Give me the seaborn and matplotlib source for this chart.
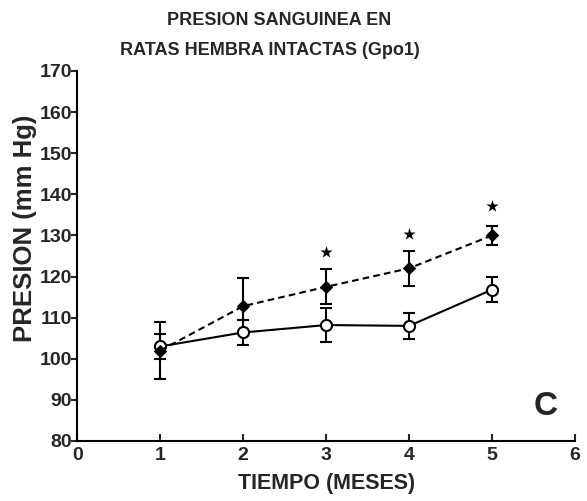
import matplotlib
matplotlib.use("Agg")
import matplotlib.pyplot as plt
import seaborn as sns
import pandas as pd

sns.set_theme(style="ticks")
plt.rcParams["font.family"] = ["Liberation Sans", "DejaVu Sans"]
plt.rcParams["font.weight"] = "bold"

# Months of follow-up
meses = [1, 2, 3, 4, 5]

# Control group (open circles, solid line)
control_media = [103.0, 106.4, 108.2, 108.0, 116.8]
control_ee = [3.0, 3.0, 4.2, 3.2, 3.0]

# Treated group (filled diamonds, dashed line)
tratado_media = [102.0, 112.8, 117.5, 122.0, 130.0]
tratado_ee = [7.0, 6.8, 4.3, 4.2, 2.4]

# Significance marks
estrellas_x = [3, 4, 5]
estrellas_y = [126.0, 130.4, 137.2]

x_ticks = [0, 1, 2, 3, 4, 5, 6]
y_ticks = [80, 90, 100, 110, 120, 130, 140, 150, 160, 170]

df = pd.DataFrame({
    "mes": meses * 2,
    "presion": control_media + tratado_media,
    "grupo": ["control"] * 5 + ["tratado"] * 5,
})

fig = plt.figure(figsize=(5.87, 5.01), dpi=100)
ax = fig.add_axes([0.1317, 0.1198, 0.8479, 0.7385])

lw = 1.5
ax.errorbar(meses, control_media, yerr=control_ee, fmt="none", ecolor="black",
            elinewidth=lw, capsize=4.5, capthick=lw, zorder=2)
ax.errorbar(meses, tratado_media, yerr=tratado_ee, fmt="none", ecolor="black",
            elinewidth=lw, capsize=4.5, capthick=lw, zorder=2)

sns.lineplot(data=df[df.grupo == "control"], x="mes", y="presion", ax=ax,
             color="black", linewidth=lw, marker="o", markersize=8,
             markerfacecolor="white", markeredgecolor="black",
             markeredgewidth=1.5, zorder=3, legend=False)
sns.lineplot(data=df[df.grupo == "tratado"], x="mes", y="presion", ax=ax,
             color="black", linewidth=lw, marker="D", markersize=6,
             markerfacecolor="black", markeredgecolor="black",
             dashes=False, zorder=4, legend=False)
ax.lines[-1].set_linestyle((0, (3.2, 2.0)))

ax.scatter(estrellas_x, estrellas_y, marker="*", s=85, color="black",
           linewidths=0, zorder=5)

ax.set_xlim(0, 6)
ax.set_ylim(80, 170)
ax.set_xticks(x_ticks, labels=[str(v) for v in x_ticks],
              fontsize=14, fontweight="bold")
ax.set_yticks(y_ticks, labels=[str(v) for v in y_ticks],
              fontsize=14, fontweight="bold")
ax.tick_params(axis="y", direction="out", length=4, width=1.5, pad=0)
ax.tick_params(axis="x", direction="in", length=5, width=1.5, pad=4)

sns.despine(ax=ax)
for s in ["left", "bottom"]:
    ax.spines[s].set_linewidth(1.5)
    ax.spines[s].set_color("black")

ax.set_xlabel("TIEMPO (MESES)", fontsize=15.5, fontweight="bold", labelpad=7)
ax.set_ylabel("PRESION (mm Hg)", fontsize=18.5, fontweight="bold")
ax.yaxis.set_label_coords(-0.081, 0.575)

fig.text(0.475, 0.959, "PRESION SANGUINEA EN", ha="center", va="center",
         fontsize=13, fontweight="bold")
fig.text(0.46, 0.90, "RATAS HEMBRA INTACTAS (Gpo1)", ha="center", va="center",
         fontsize=13, fontweight="bold")

ax.text(5.65, 88.5, "C", ha="center", va="center", fontsize=24, fontweight="bold")

fig.savefig("out.png", dpi=100)
